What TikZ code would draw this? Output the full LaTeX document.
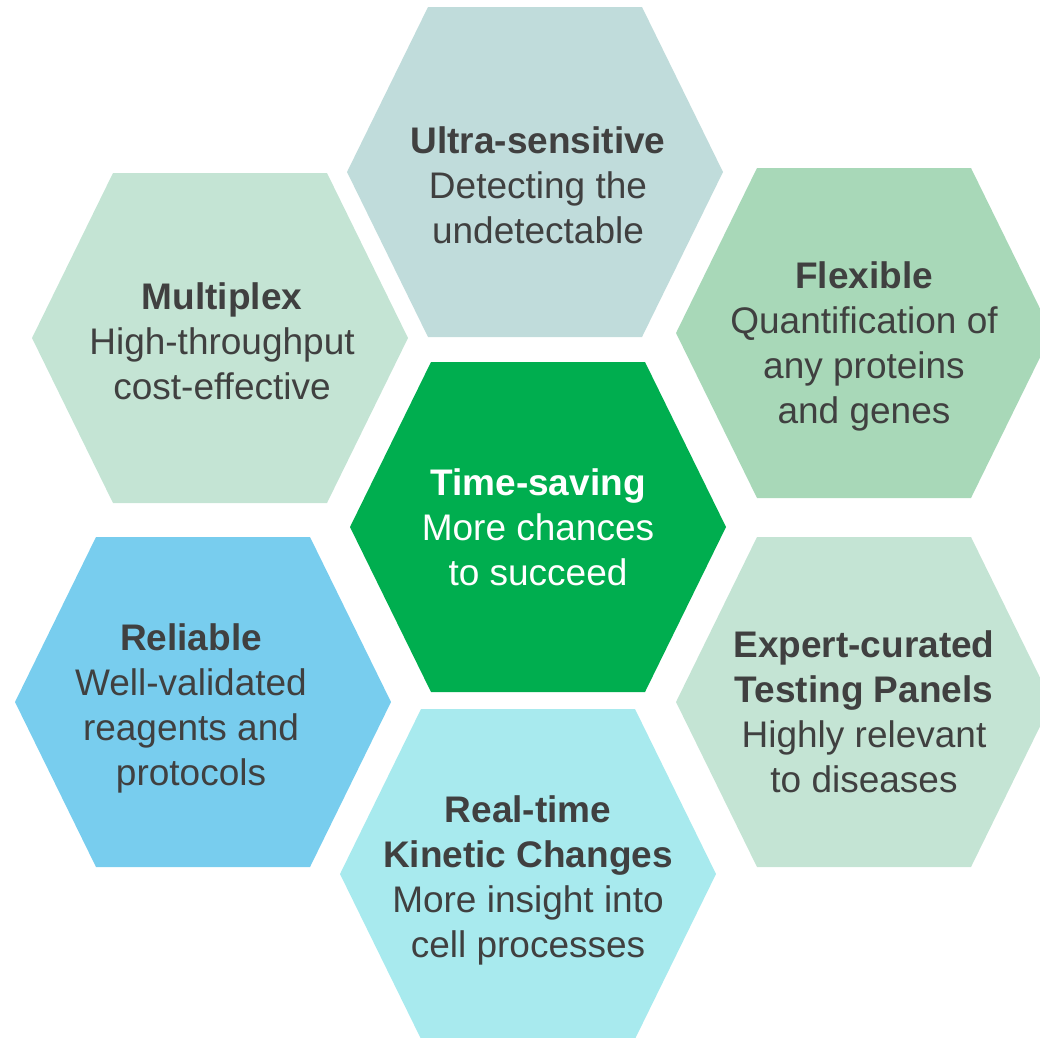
\documentclass[tikz,border=0pt]{standalone}
\usepackage{fontspec}
\setmainfont{Liberation Sans}
\definecolor{cUltra}{HTML}{C0DCDB}
\definecolor{cMulti}{HTML}{C4E4D4}
\definecolor{cFlex}{HTML}{A8D8B8}
\definecolor{cTime}{HTML}{00AE4F}
\definecolor{cRel}{HTML}{78CDEE}
\definecolor{cExp}{HTML}{C4E4D4}
\definecolor{cReal}{HTML}{A8EAEE}
\definecolor{cText}{HTML}{404040}
\tikzset{
  txt/.style={align=center, text=cText, inner sep=0pt,
    font=\fontsize{37}{45}\selectfont},
  wtxt/.style={txt, text=white}
}
\newcommand\hexat[3]{%
  \fill[#3] (#1-188,#2) -- (#1-107,#2-165) -- (#1+107,#2-165) --
    (#1+188,#2) -- (#1+107,#2+165) -- (#1-107,#2+165) -- cycle;}
\begin{document}
\begin{tikzpicture}[x=1pt,y=-1pt]
\useasboundingbox (0,0) rectangle (1040,1037);
\clip (0,0) rectangle (1040,1037);
\hexat{535}{172}{cUltra}
\hexat{220}{338}{cMulti}
\hexat{864}{333}{cFlex}
\hexat{538}{527}{cTime}
\hexat{203}{702}{cRel}
\hexat{864}{702}{cExp}
\hexat{528}{874}{cReal}
\node[txt] (ultra) at (538,185) {\textbf{Ultra-sensitive}\\Detecting the\\undetectable};
\node[txt] (multi) at (222,341) {\textbf{Multiplex}\\High-throughput\\cost-effective};
\node[txt] (flex) at (864,346) {\textbf{Flexible}\\Quantification of\\any proteins\\and genes};
\node[wtxt] (time) at (538,527) {\textbf{Time-saving}\\More chances\\to succeed};
\node[txt] (rel) at (191,708) {\textbf{Reliable}\\Well-validated\\reagents and\\protocols};
\node[txt] (exp) at (864,712) {\textbf{Expert-curated}\\\textbf{Testing Panels}\\Highly relevant\\to diseases};
\node[txt] (real) at (528,880) {\textbf{Real-time}\\\textbf{Kinetic Changes}\\More insight into\\cell processes};
\end{tikzpicture}
\end{document}
